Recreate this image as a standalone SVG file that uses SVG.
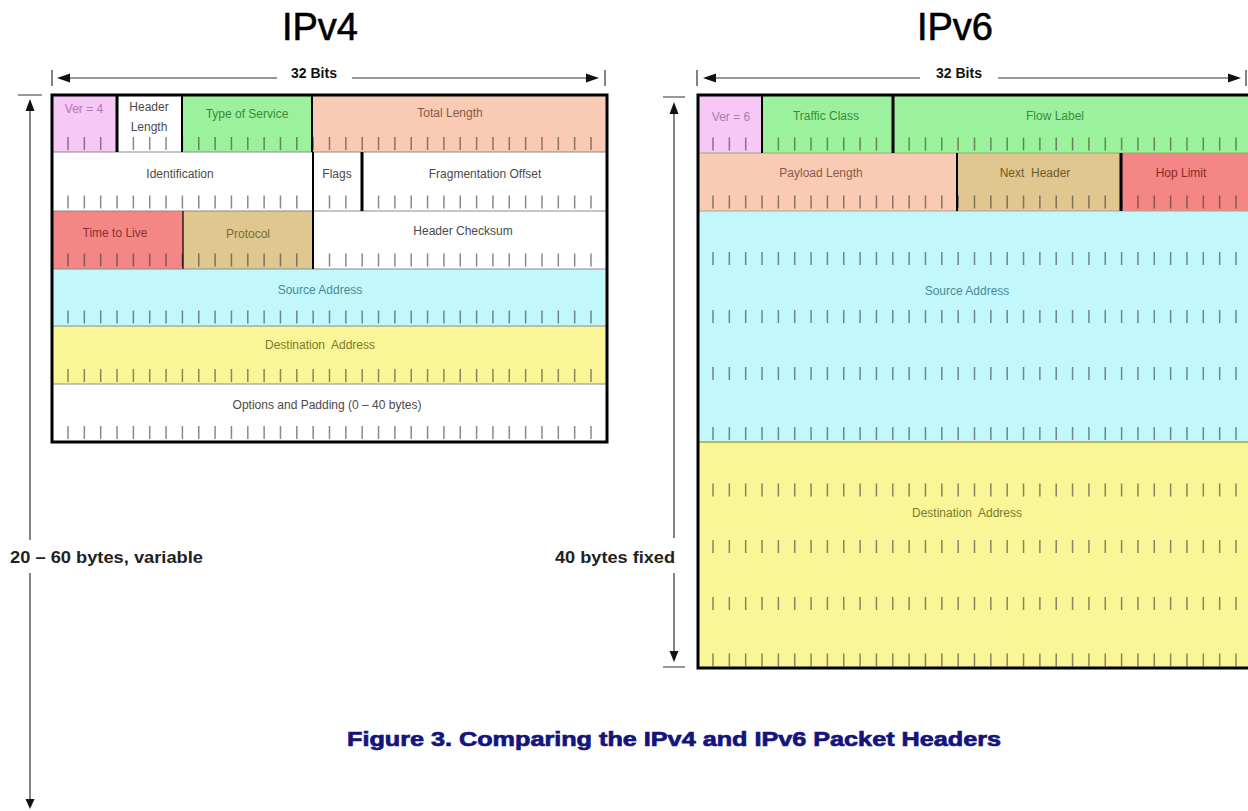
<svg xmlns="http://www.w3.org/2000/svg" width="1248" height="811" viewBox="0 0 1248 811">
<style>
.lbl{font-family:"Liberation Sans",Arial,sans-serif;font-size:12px;text-anchor:middle;fill:#4a4a4a}
.title{font-family:"Liberation Sans",Arial,sans-serif;font-size:38px;text-anchor:middle;fill:#000;stroke:#000;stroke-width:0.6}
.bits{font-family:"Liberation Sans",Arial,sans-serif;font-size:14px;font-weight:bold;text-anchor:middle;fill:#111}
.side{font-family:"Liberation Sans",Arial,sans-serif;font-size:16px;font-weight:bold;fill:#222}
.cap{font-family:"Liberation Sans",Arial,sans-serif;font-size:20px;font-weight:bold;text-anchor:middle;fill:#14147e;stroke:#14147e;stroke-width:0.7}
.tick4{fill:none;stroke:#3a3a3a;stroke-opacity:0.6;stroke-width:13;stroke-dasharray:1.5 14.844}
.sep{stroke:#000;fill:none}
.thin{stroke:#8a8a8a;stroke-width:1;fill:none}
.pink{fill:#f6c8f6}.green{fill:#9cf29c}.salmon{fill:#f9cab4}.red{fill:#f48686}.tan{fill:#dfc78f}.cyan{fill:#c2f8fc}.yellow{fill:#faf698}.white{fill:#fff}
.ln{stroke:#333;stroke-width:1.2;fill:none}
.ah{fill:#111}
</style>

<text class="title" x="320" y="40">IPv4</text>
<text class="title" x="955" y="40">IPv6</text>

<!-- IPv4 fields -->
<g id="v4-ver"><rect class="pink" x="52" y="95" width="65" height="57"/><text class="lbl" x="84" y="113" style="fill:#b078b0">Ver = 4</text></g>
<g id="v4-hlen"><rect class="white" x="117" y="95" width="65" height="57"/><text class="lbl" x="149" y="111">Header</text><text class="lbl" x="149" y="131">Length</text></g>
<g id="v4-tos"><rect class="green" x="182" y="95" width="130" height="57"/><text class="lbl" x="247" y="118" style="fill:#3a8a3a">Type of Service</text></g>
<g id="v4-tlen"><rect class="salmon" x="312" y="95" width="295" height="57"/><text class="lbl" x="450" y="117" style="fill:#8a5a48">Total Length</text></g>
<g id="v4-id"><rect class="white" x="52" y="152" width="261" height="59"/><text class="lbl" x="180" y="178">Identification</text></g>
<g id="v4-flags"><rect class="white" x="313" y="152" width="49" height="59"/><text class="lbl" x="337" y="178">Flags</text></g>
<g id="v4-frag"><rect class="white" x="362" y="152" width="245" height="59"/><text class="lbl" x="485" y="178">Fragmentation Offset</text></g>
<g id="v4-ttl"><rect class="red" x="52" y="211" width="131" height="58"/><text class="lbl" x="115" y="237" style="fill:#8a3030">Time to Live</text></g>
<g id="v4-proto"><rect class="tan" x="183" y="211" width="130" height="58"/><text class="lbl" x="248" y="238" style="fill:#7a6a3a">Protocol</text></g>
<g id="v4-csum"><rect class="white" x="313" y="211" width="294" height="58"/><text class="lbl" x="463" y="235">Header Checksum</text></g>
<g id="v4-src"><rect class="cyan" x="52" y="269" width="555" height="57"/><text class="lbl" x="320" y="294" style="fill:#4a8a98">Source Address</text></g>
<g id="v4-dst"><rect class="yellow" x="52" y="326" width="555" height="58"/><text class="lbl" x="320" y="349" style="fill:#7a7a2a" xml:space="preserve">Destination  Address</text></g>
<g id="v4-opt"><rect class="white" x="52" y="384" width="555" height="58"/><text class="lbl" x="327" y="409">Options and Padding (0 – 40 bytes)</text></g>

<g id="v4-ticks">
<path class="tick4" d="M67.25 143.5H592M67.25 202H592M67.25 260H592M67.25 317H592M67.25 375.5H592M67.25 432.5H592"/>
</g>
<g id="v4-lines">
<path class="thin" d="M52 152H607M52 211H607M52 269H607M52 326H607M52 384H607"/>
<path class="sep" stroke-width="3" d="M117 95V152M362 152V211"/>
<path class="sep" stroke-width="2" d="M182 95V152M312 95V152M313 152V211M313 211V269"/>
<path class="sep" stroke-width="1.2" d="M183 211V269"/>
<rect x="52" y="95" width="555" height="347" fill="none" stroke="#000" stroke-width="3"/>
</g>

<!-- IPv6 fields -->
<g id="v6-ver"><rect class="pink" x="698" y="95" width="64" height="58"/><text class="lbl" x="731" y="121" style="fill:#b078b0">Ver = 6</text></g>
<g id="v6-tc"><rect class="green" x="762" y="95" width="131" height="58"/><text class="lbl" x="826" y="120" style="fill:#3a8a3a">Traffic Class</text></g>
<g id="v6-fl"><rect class="green" x="893" y="95" width="359" height="58"/><text class="lbl" x="1055" y="120" style="fill:#3a8a3a">Flow Label</text></g>
<g id="v6-plen"><rect class="salmon" x="698" y="153" width="259" height="58"/><text class="lbl" x="821" y="177" style="fill:#8a5a48">Payload Length</text></g>
<g id="v6-nh"><rect class="tan" x="957" y="153" width="164" height="58"/><text class="lbl" x="1035" y="177" style="fill:#6a5a2a" xml:space="preserve">Next  Header</text></g>
<g id="v6-hop"><rect class="red" x="1121" y="153" width="131" height="58"/><text class="lbl" x="1181" y="177" style="fill:#8a2a2a">Hop Limit</text></g>
<g id="v6-src"><rect class="cyan" x="698" y="211" width="554" height="231"/><text class="lbl" x="967" y="295" style="fill:#4a8a98">Source Address</text></g>
<g id="v6-dst"><rect class="yellow" x="698" y="442" width="554" height="226"/><text class="lbl" x="967" y="517" style="fill:#7a7a2a" xml:space="preserve">Destination  Address</text></g>

<g id="v6-ticks">
<path class="tick4" d="M712.25 144H1240M712.25 202H1240M712.25 258.5H1240M712.25 316.5H1240M712.25 373.5H1240M712.25 433.5H1240M712.25 490H1240M712.25 546.5H1240M712.25 603.5H1240M712.25 660H1240"/>
</g>
<g id="v6-lines">
<path stroke="#8fae6f" stroke-width="1" d="M698 153H1252"/>
<path stroke="#b0a090" stroke-width="1" d="M698 211H1252"/>
<path stroke="#a9a040" stroke-width="1.5" d="M698 442H1252"/>
<path class="sep" stroke-width="2" d="M762 95V153M957 153V211"/>
<path class="sep" stroke-width="3" d="M893 95V153M1121 153V211"/>
<path class="sep" stroke-width="3" d="M698 95H1252M698 93.5V669.5M698 668H1252"/>
</g>

<!-- connectors / dimension arrows -->
<g id="connectors">
<path class="ln" d="M52 70V86M605 70V86M60 78H277M352 78H597"/>
<polygon class="ah" points="57,78 70,73.5 70,82.5"/>
<polygon class="ah" points="599,78 586,73.5 586,82.5"/>
<path class="ln" d="M697 70V86M1246 70V86M706 78H920M998 78H1238"/>
<polygon class="ah" points="703,78 716,73.5 716,82.5"/>
<polygon class="ah" points="1241,78 1228,73.5 1228,82.5"/>
<path class="ln" d="M18 95H42M30 110V540M30 573V800"/>
<polygon class="ah" points="30,99 25.5,111 34.5,111"/>
<polygon class="ah" points="30,809 25.5,799 34.5,799"/>
<path class="ln" d="M663 97H685M674 112V538M674 573V655M663 667H685"/>
<polygon class="ah" points="674,102 669.5,114 678.5,114"/>
<polygon class="ah" points="674,662 669.5,651 678.5,651"/>
</g>

<text class="bits" x="314" y="78">32 Bits</text>
<text class="bits" x="959" y="78">32 Bits</text>
<text class="side" x="10" y="563" textLength="193" lengthAdjust="spacingAndGlyphs">20 – 60 bytes, variable</text>
<text class="side" x="555" y="563" textLength="120" lengthAdjust="spacingAndGlyphs">40 bytes fixed</text>
<text class="cap" x="674" y="746" textLength="654" lengthAdjust="spacingAndGlyphs">Figure 3. Comparing the IPv4 and IPv6 Packet Headers</text>
</svg>
